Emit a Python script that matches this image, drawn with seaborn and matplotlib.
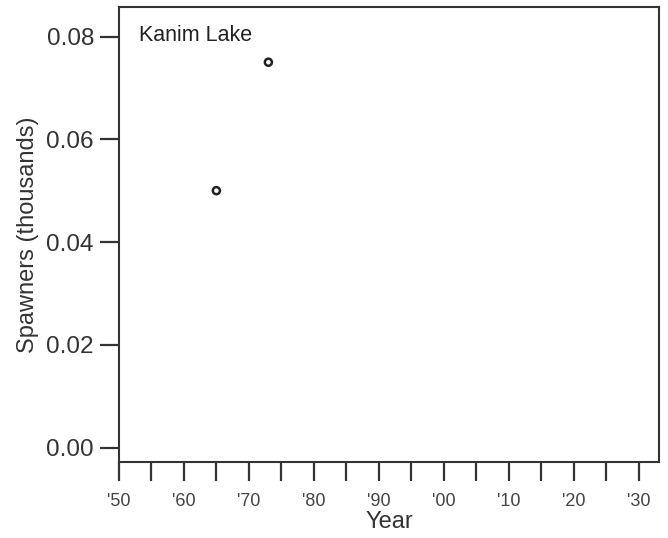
import matplotlib
matplotlib.use("Agg")
import matplotlib.pyplot as plt
import pandas as pd
import seaborn as sns

# data
years = [1965, 1973]
spawners = [0.050, 0.075]
site = "Kanim Lake"
x_ticks = list(range(1950, 2031, 5))
x_labels = ["'50", "", "'60", "", "'70", "", "'80", "", "'90", "", "'00", "",
            "'10", "", "'20", "", "'30"]
y_ticks = [0.00, 0.02, 0.04, 0.06, 0.08]

df = pd.DataFrame({"Year": years, "Spawners": spawners})

sns.set_style("ticks")
plt.rcParams["font.family"] = ["Liberation Sans", "DejaVu Sans"]
dark = "#333333"

fig = plt.figure(figsize=(6.68, 5.38), dpi=100)
ax = fig.add_axes([0.178, 0.1405, 0.8085, 0.846])

sns.scatterplot(data=df, x="Year", y="Spawners", ax=ax, marker="o", s=26,
                facecolor="none", edgecolor="#222222", linewidth=1.8, zorder=3)

ax.set_xlim(1950, 2033.1)
ax.set_ylim(-0.0029, 0.0857)
ax.set_xticks(x_ticks)
ax.set_xticklabels(x_labels, fontsize=13, color="#444444")
ax.set_yticks(y_ticks)
ax.set_yticklabels([f"{v:.2f}" for v in y_ticks], fontsize=17.5, color=dark)
ax.tick_params(axis="x", length=14, width=1.6, color=dark, pad=8)
ax.tick_params(axis="y", length=14, width=1.6, color=dark, pad=4)

for sp in ax.spines.values():
    sp.set_visible(True)
    sp.set_color(dark)
    sp.set_linewidth(1.5)

ax.set_xlabel("Year", fontsize=17, color=dark, labelpad=1)
ax.set_ylabel("Spawners (thousands)", fontsize=17, color=dark, labelpad=5)
ax.text(0.038, 0.962, site, transform=ax.transAxes, fontsize=15.5,
        color="#222222", ha="left", va="top")

fig.savefig("out.png", dpi=100)
